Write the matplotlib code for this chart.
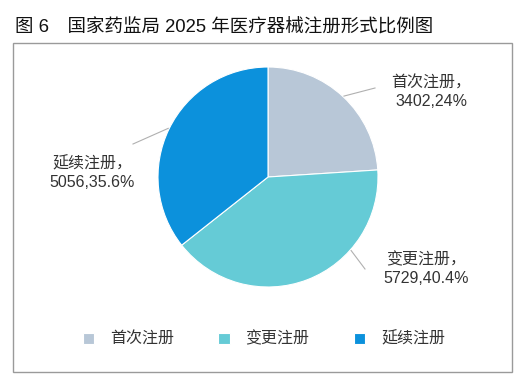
import numpy as np
import matplotlib
matplotlib.use("Agg")
import matplotlib.pyplot as plt
from matplotlib.patches import Rectangle

plt.rcParams['font.family'] = ['Liberation Sans', 'Noto Sans CJK SC']

# data
categories = ['首次注册', '变更注册', '延续注册']
counts = [3402, 5729, 5056]
pct_labels = ['24%', '40.4%', '35.6%']
colors = ['#b8c7d7', '#65cbd6', '#0c91dc']
title = '图 6　国家药监局 2025 年医疗器械注册形式比例图'

W, H = 526, 384
fig = plt.figure(figsize=(W / 100, H / 100), dpi=100)
ax = fig.add_axes([0, 0, 1, 1])

cx, cy, r = 268, H - 177, 110
wedges, _ = ax.pie(counts, colors=colors, startangle=90, counterclock=False,
                   center=(cx, cy), radius=r, frame=True,
                   wedgeprops=dict(edgecolor='white', linewidth=0.8))
ax.set_xlim(0, W)
ax.set_ylim(0, H)
ax.set_aspect('equal')
ax.axis('off')

# outer frame
ax.add_patch(Rectangle((13, H - 372), 499, 329, fill=False,
                       edgecolor='#9a9a9a', linewidth=1.0))

ax.text(15, H - 28, title, fontsize=13.3, color='#111111', va='center', ha='left')

# label positions (image pixels) and leader line angles
label_xy = [(431, 92), (426, 269), (92, 173)]
line_ang = [46.8, -41.5, 154.0]
line_end = [(375, 88), (365, 269), (133, 144)]
for i, cat in enumerate(categories):
    a = np.deg2rad(line_ang[i])
    x0, y0 = cx + (r + 1) * np.cos(a), cy + (r + 1) * np.sin(a)
    ex, ey = line_end[i]
    ax.plot([x0, ex], [y0, H - ey], color='#b0b0b0', linewidth=0.8)
    lx, ly = label_xy[i]
    ax.text(lx, H - ly, f'{cat}，\n{counts[i]},{pct_labels[i]}', fontsize=11.5,
            color='#333333', ha='center', va='center', linespacing=1.3)

ax.legend(wedges, categories, ncol=3, loc='center',
          bbox_to_anchor=(264 / W, 1 - 339 / H), bbox_transform=fig.transFigure,
          frameon=False, fontsize=11.5, handlelength=0.7, handleheight=0.7,
          handletextpad=1.0, columnspacing=2.8, labelcolor='#333333')

fig.savefig('out.png', dpi=100)
